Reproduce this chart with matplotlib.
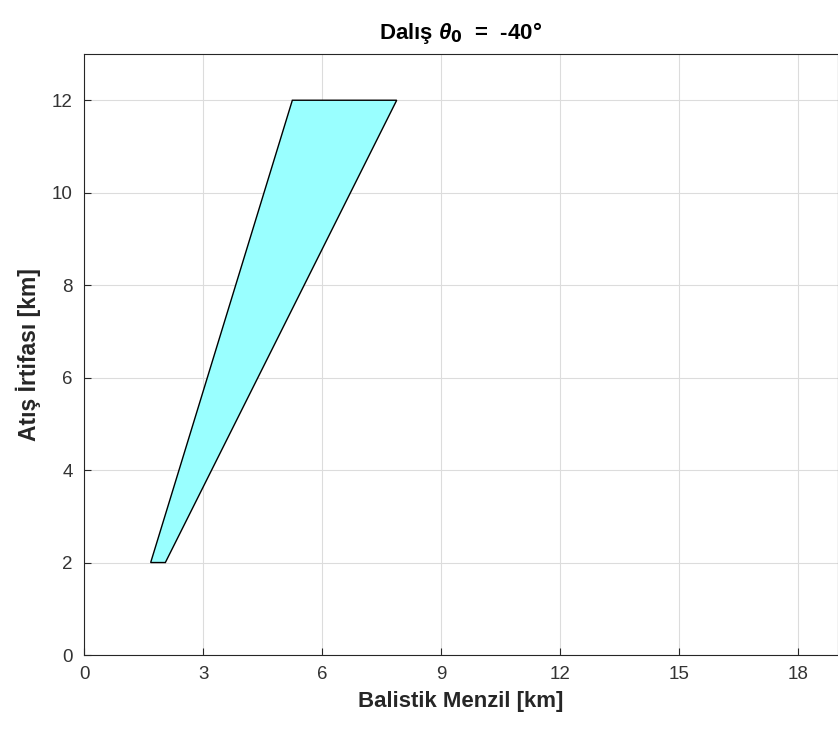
import matplotlib
matplotlib.use("Agg")
import matplotlib.pyplot as plt

# polygon corners (km)
menzil = [1.68, 2.05, 7.88, 5.25]
irtifa = [2, 2, 12, 12]

xticks = [0, 3, 6, 9, 12, 15, 18]
yticks = [0, 2, 4, 6, 8, 10, 12]

plt.rcParams['font.family'] = ['Liberation Sans', 'DejaVu Sans']
plt.rcParams['mathtext.fontset'] = 'custom'
plt.rcParams['mathtext.it'] = 'Liberation Sans:italic:bold'
plt.rcParams['mathtext.rm'] = 'Liberation Sans:bold'

fig = plt.figure(figsize=(8.38, 7.36), dpi=100)
ax = fig.add_axes([84 / 838, 1 - 655 / 736, 1 - 84 / 838, (655 - 54) / 736])

ax.fill(menzil, irtifa, facecolor="#99ffff", edgecolor="black", linewidth=1.0, zorder=3)

ax.set_xlim(0, 19)
ax.set_ylim(0, 13)
ax.set_xticks(xticks)
ax.set_yticks(yticks)
ax.grid(True, color="#dcdcdc", linewidth=0.8)
ax.set_axisbelow(True)
ax.tick_params(direction="in", length=5, colors="#262626", labelsize=13.5, labelcolor="#333333", pad=8)
for s in ax.spines.values():
    s.set_color("#262626")

ax.set_xlabel("Balistik Menzil [km]", fontsize=16, fontweight="bold", color="#262626", labelpad=6)
ax.set_ylabel("Atış İrtifası [km]", fontsize=16.5, fontweight="bold", color="#262626", labelpad=8)
ax.set_title(r"Dalış $\theta_{\mathbf{0}}$  =  -40°", fontsize=16, fontweight="bold", pad=11)

fig.savefig("out.png", dpi=100)
